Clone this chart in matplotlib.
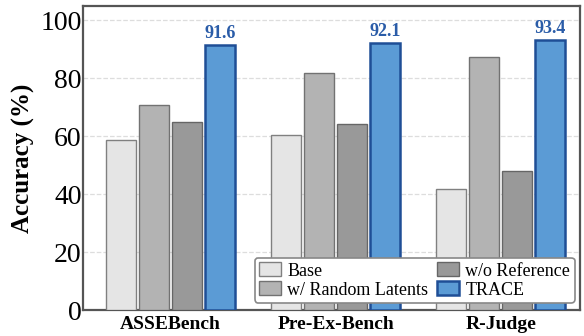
import matplotlib
matplotlib.use("Agg")
import matplotlib.pyplot as plt
import numpy as np

categories = ["ASSEBench", "Pre-Ex-Bench", "R-Judge"]
series_names = ["Base", "w/ Random Latents", "w/o Reference", "TRACE"]
base = [58.6, 60.4, 41.8]
random_latents = [70.8, 81.9, 87.3]
wo_reference = [65.0, 64.4, 47.9]
trace = [91.6, 92.1, 93.4]
yticks = [0, 20, 40, 60, 80, 100]

plt.rcParams['font.family'] = ['Liberation Serif', 'DejaVu Serif']
fig = plt.figure(figsize=(5.84, 3.36), dpi=100)
ax = fig.add_axes([83/584, 1-310/336, 497/584, 304/336])

x = np.arange(len(categories))
w = 0.18
step = 0.2
facecolors = ["#e5e5e5", "#b3b3b3", "#999999", "#5b9bd5"]
edgecolors = ["#808080", "#727272", "#666666", "#1f4e96"]
lws = [1.0, 1.0, 1.0, 1.8]
data = [base, random_latents, wo_reference, trace]
for i, (vals, name) in enumerate(zip(data, series_names)):
    bars = ax.bar(x + (i - 1.5) * step, vals, w, color=facecolors[i],
                  edgecolor=edgecolors[i], linewidth=lws[i], label=name, zorder=3)
    if name == "TRACE":
        for b, v in zip(bars, vals):
            ax.text(b.get_x() + b.get_width()/2, v + 1.0, f"{v:.1f}", ha="center",
                    va="bottom", fontsize=13, fontweight="bold", color="#2a5ca8")

ax.set_xlim(-0.53, 2.48)
ax.set_ylim(0, 105)
ax.set_yticks(yticks)
ax.set_yticklabels([str(t) for t in yticks], fontsize=20)
ax.set_xticks(x)
ax.set_xticklabels(categories, fontsize=14, fontweight="bold")
ax.tick_params(axis='y', length=0, pad=1)
ax.tick_params(axis='x', length=0, pad=4)
ax.set_ylabel("Accuracy (%)", fontsize=18, fontweight="bold", labelpad=4)
ax.grid(axis='y', linestyle='--', color='#dddddd', linewidth=0.9, zorder=0)
for s in ax.spines.values():
    s.set_color("#555555")
    s.set_linewidth(1.6)

leg = ax.legend(ncol=2, loc="lower right", fontsize=13, frameon=True, fancybox=True,
                edgecolor="#888888", framealpha=1.0, handlelength=1.2, handleheight=0.8,
                columnspacing=0.5, handletextpad=0.35, labelspacing=0.1,
                borderpad=0.25, borderaxespad=0.3, bbox_to_anchor=(1.0, 0.005))
leg.get_frame().set_linewidth(1.2)

fig.savefig("out.png", dpi=100)
